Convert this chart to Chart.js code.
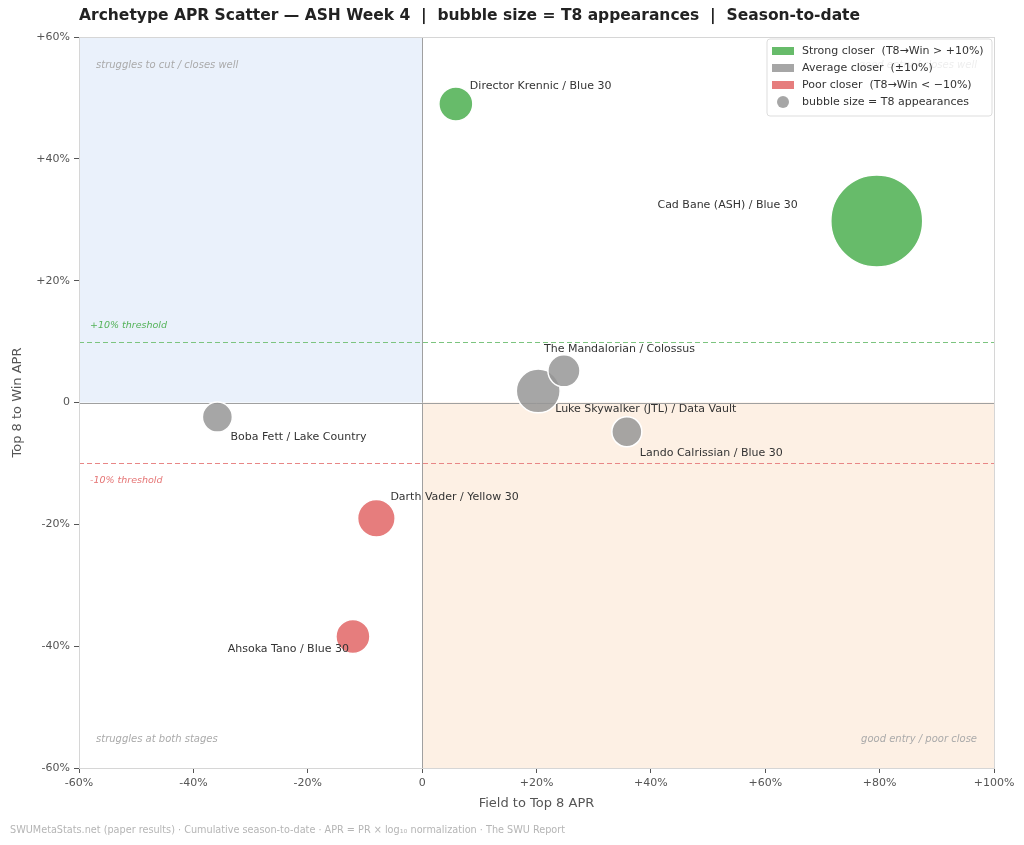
<!DOCTYPE html>
<html>
<head>
<meta charset="utf-8">
<script src="https://cdn.jsdelivr.net/npm/chart.js@4"></script>
<style>
  html, body { margin: 0; padding: 0; background: #fff; }
  #chart { display: block; }
</style>
</head>
<body>
<canvas id="chart" width="1024" height="845"></canvas>
<script>
// values
const archetypes = [
    'Director Krennic / Blue 30',
    'Cad Bane (ASH) / Blue 30',
    'Luke Skywalker (JTL) / Data Vault',
    'The Mandalorian / Colossus',
    'Lando Calrissian / Blue 30',
    'Boba Fett / Lake Country',
    'Darth Vader / Yellow 30',
    'Ahsoka Tano / Blue 30'
];
const fieldToTop8 = [5.9, 79.5, 20.3, 24.8, 35.8, -35.8, -8.0, -12.1];
const top8ToWin = [49.0, 29.8, 1.9, 5.2, -4.8, -2.4, -19.0, -38.4];
const t8Appearances = [4, 61, 10, 3, 2, 2, 6, 4];
const xTicks = [-60, -40, -20, 0, 20, 40, 60, 80, 100];
const yTicks = [-60, -40, -20, 0, 20, 40, 60];
const threshold = 10;

// label placement relative to each bubble (pixels)
const labelOffsets = [
    [14, -18, 'left'],
    [-79, -16, 'right'],
    [17, 18, 'left'],
    [-20, -22, 'left'],
    [13, 21, 'left'],
    [13, 20, 'left'],
    [14, -21, 'left'],
    [-4, 13, 'right']
];

const FONT = '"DejaVu Sans", sans-serif';
const colors = {
    strong: 'rgba(76, 175, 80, 0.85)',
    average: 'rgba(150, 150, 150, 0.85)',
    poor: 'rgba(224, 92, 92, 0.8)'
};

function bubbleRadius(n) {
    return Math.sqrt(161 + 32 * n);
}

function category(y) {
    if (y > threshold) return 'strong';
    if (y < -threshold) return 'poor';
    return 'average';
}

function pct(v) {
    if (v === 0) return '0';
    return (v > 0 ? '+' : '') + v + '%';
}

// snap to pixel centre so 1px lines stay crisp
function crisp(v) {
    return Math.round(v) + 0.5;
}

const points = archetypes.map((name, i) => ({
    x: fieldToTop8[i],
    y: top8ToWin[i],
    r: bubbleRadius(t8Appearances[i]),
    name: name,
    idx: i
}));

const datasets = ['average', 'strong', 'poor'].map(cat => ({
    label: cat,
    data: points.filter(p => category(p.y) === cat),
    backgroundColor: colors[cat],
    borderColor: '#ffffff',
    borderWidth: 1.5
}));

const decorations = {
    id: 'decorations',
    beforeDatasetsDraw(chart) {
        const { ctx, chartArea: a, scales: { x, y } } = chart;
        const x0 = x.getPixelForValue(0);
        const y0 = y.getPixelForValue(0);
        ctx.save();
        // quadrant shading
        ctx.fillStyle = '#eaf1fb';
        ctx.fillRect(a.left, a.top, x0 - a.left, y0 - a.top);
        ctx.fillStyle = '#fdf0e4';
        ctx.fillRect(x0, y0, a.right - x0, a.bottom - y0);

        // quadrant captions
        ctx.font = 'italic 10px ' + FONT;
        ctx.fillStyle = '#aaaaaa';
        ctx.textBaseline = 'middle';
        ctx.textAlign = 'left';
        ctx.fillText('struggles to cut / closes well', a.left + 17, a.top + 28);
        ctx.fillText('struggles at both stages', a.left + 17, a.bottom - 29);
        ctx.textAlign = 'right';
        ctx.fillText('good entry / closes well', a.right - 17, a.top + 28);
        ctx.fillText('good entry / poor close', a.right - 17, a.bottom - 29);

        // zero lines
        ctx.strokeStyle = '#a0a0a0';
        ctx.lineWidth = 1;
        ctx.beginPath();
        ctx.moveTo(crisp(x0), a.top); ctx.lineTo(crisp(x0), a.bottom);
        ctx.moveTo(a.left, crisp(y0)); ctx.lineTo(a.right, crisp(y0));
        ctx.stroke();

        // threshold lines
        const yUp = y.getPixelForValue(threshold);
        const yDn = y.getPixelForValue(-threshold);
        ctx.setLineDash([5, 3]);
        ctx.lineWidth = 1;
        ctx.strokeStyle = '#7cc47f';
        ctx.beginPath(); ctx.moveTo(a.left, crisp(yUp)); ctx.lineTo(a.right, crisp(yUp)); ctx.stroke();
        ctx.strokeStyle = '#e88686';
        ctx.beginPath(); ctx.moveTo(a.left, crisp(yDn)); ctx.lineTo(a.right, crisp(yDn)); ctx.stroke();
        ctx.setLineDash([]);

        ctx.font = 'italic 9.5px ' + FONT;
        ctx.textAlign = 'left';
        ctx.fillStyle = 'rgba(76, 175, 80, 0.95)';
        ctx.fillText('+10% threshold', a.left + 11, yUp - 16);
        ctx.fillStyle = 'rgba(224, 92, 92, 0.85)';
        ctx.fillText('-10% threshold', a.left + 11, yDn + 17);
        ctx.restore();
    },
    afterDraw(chart) {
        const { ctx, chartArea: a, scales: { x, y } } = chart;
        ctx.save();
        // frame
        ctx.strokeStyle = '#d6d6d6';
        ctx.lineWidth = 1;
        ctx.strokeRect(a.left + 0.5, a.top + 0.5, a.right - a.left, a.bottom - a.top);

        // point labels
        ctx.font = '11px ' + FONT;
        ctx.fillStyle = '#333333';
        ctx.textBaseline = 'middle';
        points.forEach(p => {
            const [dx, dy, align] = labelOffsets[p.idx];
            ctx.textAlign = align;
            ctx.fillText(p.name, x.getPixelForValue(p.x) + dx, y.getPixelForValue(p.y) + dy);
        });

        // legend
        const lx = a.right - 227, ly = a.top + 2, lw = 225, lh = 77;
        ctx.fillStyle = 'rgba(255, 255, 255, 0.8)';
        ctx.strokeStyle = '#dddddd';
        ctx.beginPath();
        ctx.roundRect(lx, ly, lw, lh, 3);
        ctx.fill();
        ctx.stroke();
        const rows = [
            ['strong', 'Strong closer  (T8\u2192Win > +10%)'],
            ['average', 'Average closer  (\u00b110%)'],
            ['poor', 'Poor closer  (T8\u2192Win < \u221210%)'],
            [null, 'bubble size = T8 appearances']
        ];
        ctx.font = '11px ' + FONT;
        ctx.textAlign = 'left';
        rows.forEach((row, i) => {
            const cy = ly + 12 + i * 17;
            if (row[0]) {
                ctx.fillStyle = colors[row[0]];
                ctx.fillRect(lx + 5, cy - 4, 22, 8);
            } else {
                ctx.fillStyle = 'rgba(150, 150, 150, 0.85)';
                ctx.beginPath();
                ctx.arc(lx + 16, cy, 6, 0, Math.PI * 2);
                ctx.fill();
            }
            ctx.fillStyle = '#333333';
            ctx.fillText(row[1], lx + 35, cy);
        });

        // title
        ctx.font = 'bold 15.5px ' + FONT;
        ctx.fillStyle = '#222222';
        ctx.textAlign = 'left';
        ctx.fillText('Archetype APR Scatter \u2014 ASH Week 4  |  bubble size = T8 appearances  |  Season-to-date', a.left, 16);

        // footer
        ctx.font = '9.7px ' + FONT;
        ctx.fillStyle = '#b5b5b5';
        ctx.fillText('SWUMetaStats.net (paper results) \u00b7 Cumulative season-to-date \u00b7 APR = PR \u00d7 log\u2081\u2080 normalization \u00b7 The SWU Report', 10, 830);
        ctx.restore();
    }
};

new Chart(document.getElementById('chart'), {
    type: 'bubble',
    data: { datasets: datasets },
    plugins: [decorations],
    options: {
        responsive: false,
        animation: false,
        layout: { autoPadding: false, padding: { top: 37, right: 30, bottom: 30, left: 0 } },
        plugins: {
            legend: { display: false },
            tooltip: { enabled: false }
        },
        scales: {
            x: {
                type: 'linear',
                min: -60,
                max: 100,
                afterBuildTicks: scale => { scale.ticks = xTicks.map(v => ({ value: v })); },
                afterFit: scale => { scale.height = 47; },
                grid: { drawOnChartArea: false, drawTicks: true, tickLength: 5, color: '#555555' },
                border: { display: true, color: '#d6d6d6' },
                ticks: { callback: v => pct(v), color: '#555555', font: { family: FONT, size: 11 }, padding: 4, maxRotation: 0 },
                title: { display: true, text: 'Field to Top 8 APR', color: '#555555', font: { family: FONT, size: 13 }, padding: { top: 4, bottom: 4 } }
            },
            y: {
                type: 'linear',
                min: -60,
                max: 60,
                afterBuildTicks: scale => { scale.ticks = yTicks.map(v => ({ value: v })); },
                afterFit: scale => { scale.width = 79; },
                grid: { drawOnChartArea: false, drawTicks: true, tickLength: 5, color: '#555555' },
                border: { display: true, color: '#d6d6d6' },
                ticks: { callback: v => pct(v), color: '#555555', font: { family: FONT, size: 11 }, padding: 4 },
                title: { display: true, text: 'Top 8 to Win APR', color: '#555555', font: { family: FONT, size: 13 }, padding: { top: 10, bottom: 4 } }
            }
        }
    }
});
</script>
</body>
</html>
